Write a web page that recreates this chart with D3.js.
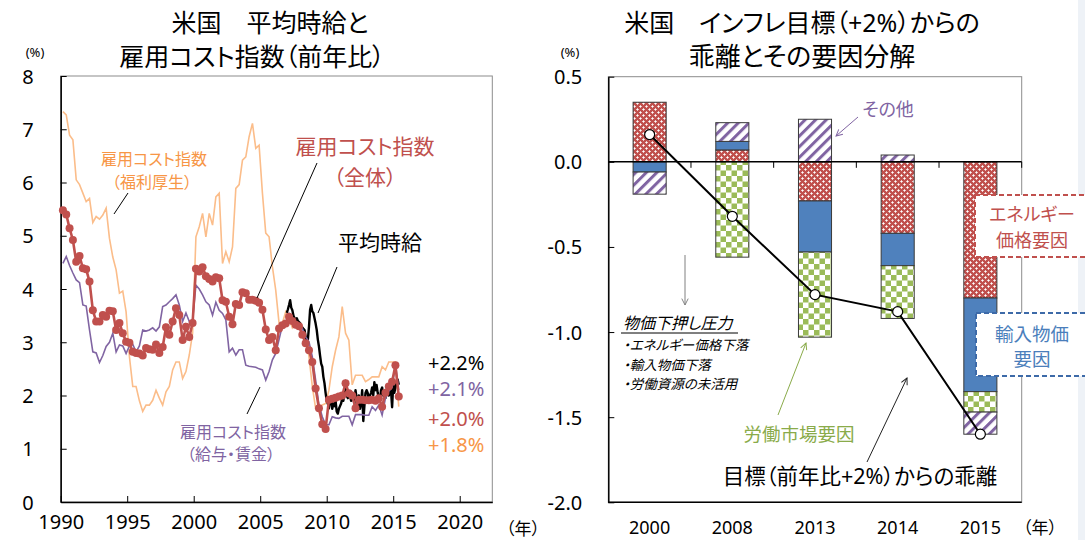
<!DOCTYPE html>
<html><head><meta charset="utf-8">
<script src="https://cdn.jsdelivr.net/npm/d3@7"></script>
<style>
body{margin:0;background:#fff;}
svg text{font-family:'Noto Sans','Noto Sans CJK JP',sans-serif;font-feature-settings:"palt";}
</style></head><body>
<svg id="c" width="1085" height="540"></svg>
<script>
// ---------- Left chart data (quarterly from 1990Q1, % y/y) ----------
const eciTotal = [5.48,5.40,5.14,4.92, 4.51,4.62,4.39,4.37, 4.14,3.60,3.39,3.39, 3.51,3.48,3.59,3.58,
  3.23,3.36,3.17,3.01, 2.99,2.82,2.80,2.79, 2.75,2.89,2.87,2.86, 2.96,2.80,2.91,3.28,
  3.14,3.39,3.64,3.51, 3.04,3.29,3.10,3.36, 4.38,4.33,4.41,4.24, 4.19,4.14,4.22,4.20,
  3.79,3.76,3.48,3.34, 3.72,3.70,3.94,3.92, 3.80,3.80,3.78,3.74, 3.61,3.24,3.04,3.10,
  2.85,3.26,3.32,3.35, 3.48,3.40,3.33,3.30, 3.14,2.98,2.85,2.63, 2.13,1.76,1.46,1.37,
  1.92,1.94,1.96,1.98, 2.00,2.23,2.04,2.00, 1.76,1.92,1.92,1.91, 1.91,1.92,1.90,1.95,
  1.79,2.05,2.17,2.26, 2.57,1.98];
const eciWages = [4.48,4.61,4.44,4.30, 4.17,4.12,3.70,3.68, 3.23,2.82,2.80,2.62, 2.75,2.92,3.00,3.17,
  2.82,2.95,2.93,2.79, 2.93,2.96,2.82,2.93, 3.23,3.21,3.23,3.27, 3.21,3.29,3.67,3.70,
  3.76,3.82,3.89,3.70, 3.39,3.55,3.39,3.42, 4.07,4.00,3.89,3.76, 3.70,3.51,3.75,3.60,
  3.54,3.42,2.82,2.89, 2.76,2.86,2.86,2.57, 2.55,2.54,2.53,2.50, 2.48,2.29,2.45,2.67,
  2.79,3.05,3.32,3.35, 3.54,3.42,3.38,3.35, 3.26,3.10,3.01,2.73, 2.29,1.82,1.60,1.45,
  1.45,1.60,1.58,1.57, 1.61,1.61,1.61,1.45, 1.64,1.64,1.64,1.63, 1.63,1.79,1.72,1.82,
  1.63,1.95,2.08,2.15, 2.59,2.10];
const eciBenefits = [7.33,7.27,6.89,6.80, 6.05,5.96,5.80,5.64, 5.70,5.25,5.36,5.31, 5.39,5.52,4.95,4.60,
  4.36,3.92,3.96,3.57, 2.73,2.17,2.17,1.90, 1.70,1.82,1.82,1.91, 2.10,1.95,1.82,2.07,
  2.17,2.48,2.63,2.63, 2.32,2.45,2.76,3.17, 4.98,5.17,5.42,4.98, 5.42,5.20,5.73,5.80,
  4.48,4.70,4.51,4.79, 5.89,5.96,6.42,6.48, 6.86,7.11,6.64,6.70, 5.80,5.05,4.98,4.42,
  3.98,3.36,3.36,3.57, 3.45,3.27,3.35,3.30, 3.20,3.10,2.73,2.17, 1.76,1.79,1.82,1.85,
  2.10,2.54,2.85,3.10, 3.67,3.17,3.04,2.20, 2.38,2.38,2.38,2.26, 2.30,2.35,2.35,2.35,
  2.54,2.48,2.63,2.63, 2.63,1.79];
// monthly from 2007-01
const hourlyEarnings = [
  3.55,3.62,3.70,3.79,3.65,3.60,3.50,3.45,3.42,3.45,3.40,3.38,
  3.36,3.30,3.28,3.25,3.23,3.10,2.95,3.05,3.29,3.61,3.70,3.58,
  3.55,3.45,3.35,3.23,3.05,2.92,2.75,2.60,2.54,2.35,2.23,2.05,
  1.90,1.85,1.76,1.90,1.95,1.75,1.85,1.80,1.90,1.70,1.66,1.75,
  1.80,1.85,1.95,1.90,2.05,2.15,2.00,1.95,2.05,2.00,1.90,2.05,
  1.95,1.85,2.10,1.95,1.80,2.00,1.75,1.85,2.10,1.52,1.80,2.05,
  2.10,2.05,1.90,2.00,2.05,2.15,2.00,2.25,2.10,2.20,2.05,1.95,
  1.90,2.10,2.15,2.00,2.05,1.95,2.10,2.15,2.00,2.05,2.10,1.78,
  2.20,2.05,2.15,2.25,2.30,2.20];
const leftYTicks = [0,1,2,3,4,5,6,7,8];
const leftXTicks = [1990,1995,2000,2005,2010,2015,2020];
const lastLabels = ["+2.2%","+2.1%","+2.0%","+1.8%"];

// ---------- Right chart data ----------
const categories = ["2000","2008","2013","2014","2015"];
const energy      = [0.35, 0.07, -0.23, -0.42, -0.80];
const importPrice = [-0.06, 0.05, -0.30, -0.19, -0.55];
const labor       = [0.00, -0.56, -0.50, -0.31, -0.12];
const other       = [-0.13, 0.11, 0.25, 0.04, -0.13];
const deviation   = [0.16, -0.32, -0.78, -0.88, -1.60];
const rightYTicks = [0.5,0.0,-0.5,-1.0,-1.5,-2.0];

const RED="#c0504d", PURPLE="#8064a2", ORANGE_LINE="#fbbd8a", ORANGE_TXT="#f79646",
      BLUE="#4f81bd", GREEN="#9bbb59";

const svg = d3.select("#c");
const defs = svg.append("defs");
svg.append("rect").attr("x",1078).attr("y",0).attr("width",7).attr("height",540).attr("fill","#eef2f7");

// patterns
const pE = defs.append("pattern").attr("id","pEnergy").attr("patternUnits","userSpaceOnUse").attr("width",6).attr("height",6);
pE.append("rect").attr("width",6).attr("height",6).attr("fill",RED);
pE.append("path").attr("d","M1.5,0.3V2.7M0.3,1.5H2.7M4.5,3.3V5.7M3.3,4.5H5.7").attr("stroke","#fff").attr("stroke-width",1);
const pL = defs.append("pattern").attr("id","pLabor").attr("patternUnits","userSpaceOnUse").attr("width",11).attr("height",11);
pL.append("rect").attr("width",11).attr("height",11).attr("fill","#fff");
pL.append("rect").attr("width",5.5).attr("height",5.5).attr("fill",GREEN);
pL.append("rect").attr("x",5.5).attr("y",5.5).attr("width",5.5).attr("height",5.5).attr("fill",GREEN);
const pO = defs.append("pattern").attr("id","pOther").attr("patternUnits","userSpaceOnUse").attr("width",7.5).attr("height",7.5).attr("patternTransform","rotate(45)");
pO.append("rect").attr("width",7.5).attr("height",7.5).attr("fill","#fff");
pO.append("rect").attr("width",3).attr("height",7.5).attr("fill",PURPLE);

function marker(id,color){
  defs.append("marker").attr("id",id).attr("viewBox","0 0 10 10").attr("refX",9).attr("refY",5)
    .attr("markerWidth",8).attr("markerHeight",8).attr("orient","auto").attr("markerUnits","userSpaceOnUse")
    .append("path").attr("d","M1,1 L9,5 L1,9").attr("fill","none").attr("stroke",color).attr("stroke-width",1.2);
}
marker("aGray","#808080"); marker("aPurple",PURPLE); marker("aGreen","#8aab4a"); marker("aBlack","#222");

function txt(x,y,s,size,color,anchor,extra){
  const t = svg.append("text").attr("x",x).attr("y",y).attr("font-size",size).attr("fill",color||"#000")
    .attr("text-anchor",anchor||"middle").attr("dominant-baseline","central").text(s);
  if(extra) extra(t);
  return t;
}
function line(x1,y1,x2,y2,color,mk,w){
  const l = svg.append("line").attr("x1",x1).attr("y1",y1).attr("x2",x2).attr("y2",y2)
    .attr("stroke",color).attr("stroke-width",w||1);
  if(mk) l.attr("marker-end","url(#"+mk+")");
}

// ================= LEFT CHART =================
const xL = d3.scaleLinear().domain([1990, 2022.45]).range([60.7, 492.3]);
const yL = d3.scaleLinear().domain([0, 8]).range([502, 76]);
svg.append("rect").attr("x",60.7).attr("y",76).attr("width",431.6).attr("height",426)
  .attr("fill","none").attr("stroke","#8c8c8c").attr("stroke-width",1);

const gyL = svg.append("g").attr("transform","translate(60.7,0)")
  .call(d3.axisLeft(yL).tickValues(leftYTicks).tickSize(-6).tickSizeOuter(0).tickPadding(27).tickFormat(d3.format("d")));
const gxL = svg.append("g").attr("transform","translate(0,502)")
  .call(d3.axisBottom(xL).tickValues(leftXTicks).tickSize(-6).tickSizeOuter(0).tickPadding(22).tickFormat(d3.format("d")));
[gyL,gxL].forEach(g=>{
  g.select(".domain").attr("stroke","#000").attr("stroke-width",1.5);
  g.selectAll(".tick line").attr("stroke","#000");
  g.selectAll(".tick text").attr("font-size",20).attr("fill","#000").attr("font-family","'Noto Sans',sans-serif");
});
gyL.selectAll(".tick text").attr("dy","0.35em");
gxL.selectAll(".tick text").attr("dy","0.25em");

const quarterly = arr => arr.map((v,i)=>({t:1990+Math.floor(i/4)+(2+3*(i%4))/12, v}));
const monthly = arr => arr.map((v,i)=>({t:2007+i/12, v}));
const lineGen = d3.line().x(d=>xL(d.t)).y(d=>yL(d.v));

svg.append("path").datum(quarterly(eciBenefits)).attr("d",lineGen).attr("fill","none").attr("stroke",ORANGE_LINE).attr("stroke-width",1.6);
svg.append("path").datum(monthly(hourlyEarnings)).attr("d",lineGen).attr("fill","none").attr("stroke","#000").attr("stroke-width",2.4).attr("stroke-linejoin","round");
svg.append("path").datum(quarterly(eciWages)).attr("d",lineGen).attr("fill","none").attr("stroke",PURPLE).attr("stroke-width",1.6);
const redData = quarterly(eciTotal);
svg.append("path").datum(redData).attr("d",lineGen).attr("fill","none").attr("stroke",RED).attr("stroke-width",2.6);
svg.append("g").selectAll("circle").data(redData).join("circle")
  .attr("cx",d=>xL(d.t)).attr("cy",d=>yL(d.v)).attr("r",4).attr("fill",RED);

// left titles & labels
txt(270,22,"米国　平均時給と",25,"#000");
txt(252,56,"雇用コスト指数（前年比）",25,"#000");
txt(35,52,"(%)",13,"#000");
txt(523,528,"（年）",17,"#000");
txt(154,159,"雇用コスト指数",16,ORANGE_TXT);
txt(152,182,"（福利厚生）",16,ORANGE_TXT);
line(128,193,114,214,"#000");
txt(365,146,"雇用コスト指数",21,RED);
txt(365,177,"（全体）",21,RED);
line(317,163,257,298,"#000");
txt(380,242,"平均時給",21,"#000");
line(337,267,318,313,"#000");
txt(233,432,"雇用コスト指数",16,PURPLE);
txt(231,454,"（給与・賃金）",16,PURPLE);
line(260,387,247,414,"#000");
const lastColors = ["#000",PURPLE,RED,ORANGE_TXT];
const lastY = [362,388,418,444];
lastLabels.forEach((s,i)=>txt(428,lastY[i],s,20,lastColors[i],"start"));

// ================= RIGHT CHART =================
const xR = d3.scaleBand().domain(categories).range([608.3,1021.7]).paddingInner(0.6).paddingOuter(0.3);
const yR = d3.scaleLinear().domain([-2,0.5]).range([502.3,76.7]);
svg.append("rect").attr("x",608.3).attr("y",76.7).attr("width",413.4).attr("height",425.6)
  .attr("fill","none").attr("stroke","#8c8c8c").attr("stroke-width",1);
const gyR = svg.append("g").attr("transform","translate(608.3,0)")
  .call(d3.axisLeft(yR).tickValues(rightYTicks).tickSize(-6).tickSizeOuter(0).tickPadding(26).tickFormat(d3.format(".1f")));
gyR.select(".domain").attr("stroke","#000").attr("stroke-width",1.5);
gyR.selectAll(".tick line").attr("stroke","#000");
gyR.selectAll(".tick text").attr("font-size",20).attr("fill","#000").attr("dy","0.35em").attr("font-family","'Noto Sans',sans-serif")
  .text(d=>d3.format(".1f")(d).replace("−","-"));
// bottom frame line
svg.append("line").attr("x1",608.3).attr("x2",1021.7).attr("y1",yR(-2)).attr("y2",yR(-2)).attr("stroke","#000").attr("stroke-width",1.5);
// category labels
svg.append("g").selectAll("text").data(categories).join("text")
  .attr("x",d=>xR(d)+xR.bandwidth()/2).attr("y",527).attr("text-anchor","middle").attr("dominant-baseline","central")
  .attr("font-size",18).attr("font-family","'Noto Sans',sans-serif").text(d=>d);
txt(1040,527,"（年）",17,"#000");

// stacked bars
const keys = ["energy","importP","labor","other"];
const rows = categories.map((c,i)=>({cat:c, energy:energy[i], importP:importPrice[i], labor:labor[i], other:other[i]}));
const stacked = d3.stack().keys(keys).offset(d3.stackOffsetDiverging)(rows);
const fills = {energy:"url(#pEnergy)", importP:BLUE, labor:"url(#pLabor)", other:"url(#pOther)"};
stacked.forEach(s=>{
  svg.append("g").selectAll("rect").data(s.filter(d=>Math.abs(d[1]-d[0])>1e-9)).join("rect")
    .attr("x",d=>xR(d.data.cat)).attr("width",xR.bandwidth())
    .attr("y",d=>yR(Math.max(d[0],d[1]))).attr("height",d=>Math.abs(yR(d[0])-yR(d[1])))
    .attr("fill",fills[s.key]).attr("stroke","#3a3a3a").attr("stroke-width",1);
});
// zero line with category boundary ticks
svg.append("line").attr("x1",608.3).attr("x2",1021.7).attr("y1",yR(0)).attr("y2",yR(0)).attr("stroke","#000").attr("stroke-width",1.5);
const step = xR.step();
categories.slice(1).forEach(c=>{
  const bx = xR(c) - step*xR.paddingInner()/2;
  svg.append("line").attr("x1",bx).attr("x2",bx).attr("y1",yR(0)).attr("y2",yR(0)+6).attr("stroke","#000");
});
svg.append("line").attr("x1",1021.7).attr("x2",1021.7).attr("y1",yR(0)).attr("y2",yR(0)+6).attr("stroke","#000");

// deviation line
const devPts = categories.map((c,i)=>({x:xR(c)+xR.bandwidth()/2, y:yR(deviation[i])}));
svg.append("path").datum(devPts).attr("d",d3.line().x(d=>d.x).y(d=>d.y)).attr("fill","none").attr("stroke","#000").attr("stroke-width",2);
svg.append("g").selectAll("circle").data(devPts).join("circle").attr("cx",d=>d.x).attr("cy",d=>d.y).attr("r",5)
  .attr("fill","#fff").attr("stroke","#000").attr("stroke-width",1.2);

// right titles & annotations
txt(802,22,"米国　インフレ目標（+2%）からの",25,"#000");
txt(802,56,"乖離とその要因分解",26,"#000");
txt(570,52,"(%)",13,"#000");
txt(888,109,"その他",18,PURPLE);
line(858,117,836,136,PURPLE,"aPurple");
line(685,255,685,305,"#808080","aGray");
txt(623,323,"物価下押し圧力",16,"#000","start",t=>t.attr("font-style","italic"));
line(621,333,738,333,"#000");
txt(623,345,"・エネルギー価格下落",13.5,"#000","start",t=>t.attr("font-style","italic"));
txt(623,365,"・輸入物価下落",13.5,"#000","start",t=>t.attr("font-style","italic"));
txt(623,384,"・労働資源の未活用",13.5,"#000","start",t=>t.attr("font-style","italic"));
txt(799,433,"労働市場要因",18.5,"#8aab4a");
line(778,415,806,343,"#8aab4a","aGreen");
txt(860,475,"目標（前年比+2%）からの乖離",21.5,"#000");
line(867,462,907,378,"#222","aBlack");
// dashed boxes
svg.append("rect").attr("x",975).attr("y",195).attr("width",140).attr("height",62).attr("fill","#fff")
  .attr("stroke",RED).attr("stroke-width",2).attr("stroke-dasharray","5,3");
txt(1032,214,"エネルギー",18,RED);
txt(1032,240,"価格要因",18,RED);
svg.append("rect").attr("x",976).attr("y",313).attr("width",140).attr("height",63).attr("fill","#fff")
  .attr("stroke","#3d6aa8").attr("stroke-width",2).attr("stroke-dasharray","5,3");
txt(1032,333,"輸入物価",18.5,"#4a7ebb");
txt(1032,358,"要因",18.5,"#4a7ebb");
</script>
</body></html>
